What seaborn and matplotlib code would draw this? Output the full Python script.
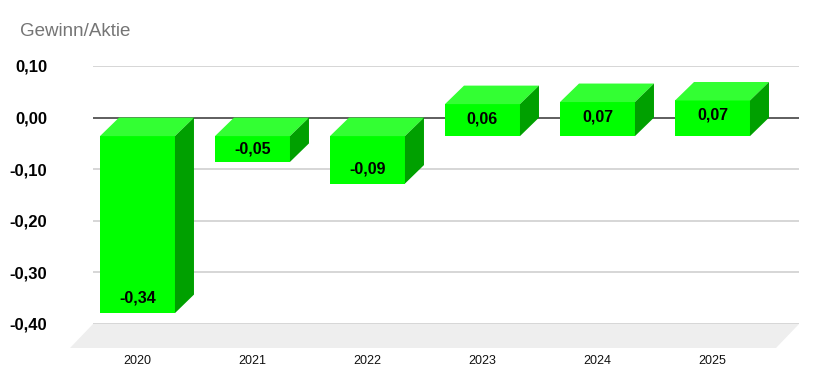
import matplotlib
matplotlib.use("Agg")
import matplotlib.pyplot as plt
import matplotlib.transforms as mtrans
from matplotlib.patches import Polygon
import seaborn as sns
import pandas as pd

years = ["2020", "2021", "2022", "2023", "2024", "2025"]
values = [-0.343, -0.05, -0.092, 0.062, 0.066, 0.069]
value_labels = ["-0,34", "-0,05", "-0,09", "0,06", "0,07", "0,07"]
yticks = [0.10, 0.00, -0.10, -0.20, -0.30, -0.40]
ytick_labels = ["0,10", "0,00", "-0,10", "-0,20", "-0,30", "-0,40"]
title = "Gewinn/Aktie"

FRONT = "#00ff00"
TOP = "#33ff33"
SIDE = "#00a000"

sns.set_theme(style="white")
plt.rcParams["font.family"] = ["Liberation Sans", "DejaVu Sans"]

W, H, DPI = 818, 388, 100
fig = plt.figure(figsize=(W / DPI, H / DPI), dpi=DPI)
ax = fig.add_axes([93 / W, (H - 324) / H, 706 / W, (324 - 66) / H])

df = pd.DataFrame({"year": years, "value": values})
sns.barplot(data=df, x="year", y="value", color=FRONT, width=0.652,
            saturation=1, ax=ax, zorder=5)

ax.set_xlim(-0.552, 5.587)
ax.set_ylim(-0.40, 0.10)
for s in ax.spines.values():
    s.set_visible(False)
ax.set_xlabel("")
ax.set_ylabel("")
ax.set_yticks(yticks)
ax.set_yticklabels(ytick_labels, fontsize=12, fontweight="bold", color="black")
ax.tick_params(axis="y", length=0, pad=33)
ax.tick_params(axis="x", length=0, labelbottom=False)
ax.grid(False)
for t in yticks:
    ax.axhline(t, color="#333333" if t == 0 else "#cccccc", lw=1.1,
               zorder=1 if t == 0 else 0.5)

# depth offsets (pixels): front face shifted left/down from back plane
DX, DY = -19, -18.5
off = mtrans.ScaledTranslation(DX / DPI, DY / DPI, fig.dpi_scale_trans)

# floor
FDX, FDY = -23, -24
x0d, y0d = ax.transAxes.transform((0, 0))
x1d, _ = ax.transAxes.transform((1, 0))
floor = Polygon([(x0d, y0d), (x1d, y0d), (x1d + FDX, y0d + FDY), (x0d + FDX, y0d + FDY)],
                closed=True, transform=None, facecolor="#eeeeee", edgecolor="none",
                zorder=0.2)
fig.add_artist(floor)
ax.set_zorder(1)

bars = list(ax.patches)
for i, p in enumerate(bars):
    bx, bw = p.get_x(), p.get_width()
    by, bh = p.get_y(), p.get_height()
    ylo, yhi = min(by, by + bh), max(by, by + bh)
    (xl, yl), (xr, yh) = ax.transData.transform([(bx, ylo), (bx + bw, yhi)])
    top = Polygon([(xl + DX, yh + DY), (xr + DX, yh + DY), (xr, yh), (xl, yh)],
                  closed=True, transform=None, facecolor=TOP, edgecolor="none",
                  zorder=4, clip_on=False)
    side = Polygon([(xr + DX, yl + DY), (xr + DX, yh + DY), (xr, yh), (xr, yl)],
                   closed=True, transform=None, facecolor=SIDE, edgecolor="none",
                   zorder=4, clip_on=False)
    fig.add_artist(top)
    fig.add_artist(side)
    p.set_transform(ax.transData + off)
    p.set_edgecolor("none")
    p.set_clip_on(False)
    p.set_zorder(6)
    # value label: inside near the bar end, or centred for short bars
    v = values[i]
    hpx = yh - yl
    inward = min(15, hpx / 2)
    shift = inward if v < 0 else -inward
    lt = ax.transData + mtrans.ScaledTranslation(DX / DPI, (DY + shift) / DPI, fig.dpi_scale_trans)
    ax.text(bx + bw / 2, v, value_labels[i], transform=lt, ha="center", va="center",
            fontsize=11.5, fontweight="bold", color="black", zorder=10, clip_on=False)
    xt = ax.transData + mtrans.ScaledTranslation(DX / DPI, -37 / DPI, fig.dpi_scale_trans)
    ax.text(bx + bw / 2, -0.40, years[i], transform=xt, ha="center", va="center",
            fontsize=9, color="#111111", clip_on=False)

fig.text(20 / W, 1 - 31 / H, title, ha="left", va="center", fontsize=13.5, color="#757575")

fig.savefig("out.png", dpi=DPI, facecolor="white")
